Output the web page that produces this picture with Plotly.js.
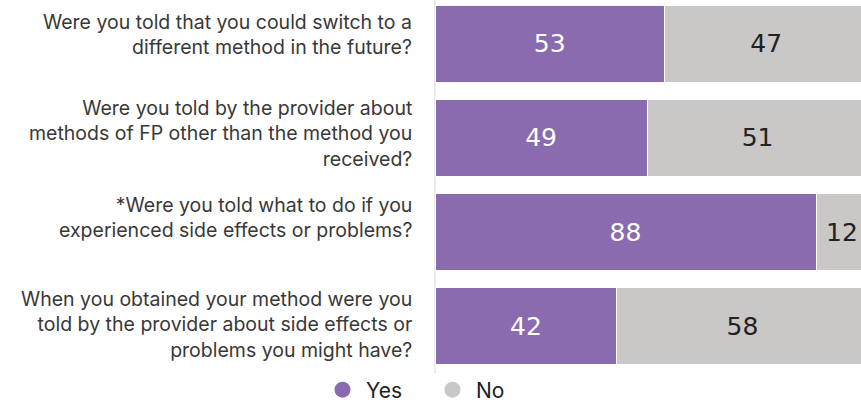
<!DOCTYPE html>
<html><head><meta charset="utf-8">
<script src="https://cdn.plot.ly/plotly-3.0.1.min.js"></script>
<style>html,body{margin:0;padding:0;overflow:hidden;background:#fff}#chart{width:868px;height:403px}</style>
</head><body><div id="chart"></div>
<script>
const categories = [
  "Were you told that you could switch to a<br>different method in the future?",
  "Were you told by the provider about<br>methods of FP other than the method you<br>received?",
  "*Were you told what to do if you<br>experienced side effects or problems?",
  "When you obtained your method were you<br>told by the provider about side effects or<br>problems you might have?"
];
const yesValues = [53, 49, 88, 42];
const noValues = [47, 51, 12, 58];
const seriesNames = ["Yes", "No"];
const colors = ["#8b6baf", "#c9c8c6"];

// label vertical nudges (px, style only)
const labelShift = [9, 4, 15, 2];

const font = "Inter, 'Liberation Sans', sans-serif";
const numFont = "'DejaVu Sans', Inter, sans-serif";
const traces = [
  {type:'bar', orientation:'h', y:categories, x:yesValues, name:seriesNames[0],
   marker:{color:colors[0], line:{color:'#ffffff', width:1}},
   text:yesValues.map(String), textposition:'inside', insidetextanchor:'middle',
   textfont:{color:'#ffffff', size:25, family:numFont}, showlegend:false, hoverinfo:'x'},
  {type:'bar', orientation:'h', y:categories, x:noValues, name:seriesNames[1],
   marker:{color:colors[1], line:{color:'#ffffff', width:1}},
   text:noValues.map(String), textposition:'inside', insidetextanchor:'middle',
   textfont:{color:'#222222', size:25, family:numFont}, showlegend:false, hoverinfo:'x'},
  {type:'scatter', mode:'markers', x:[null], y:[null], name:seriesNames[0],
   marker:{color:colors[0], size:17, symbol:'circle'}, showlegend:true},
  {type:'scatter', mode:'markers', x:[null], y:[null], name:seriesNames[1],
   marker:{color:colors[1], size:17, symbol:'circle'}, showlegend:true}
];
const annotations = categories.map((c, i) => ({
  xref:'paper', yref:'y', x:0, y:c, xanchor:'right', yanchor:'middle',
  xshift:-21, yshift:labelShift[i], text:c, align:'right', showarrow:false,
  font:{size:19.5, color:'#383838', family:font}
}));
const layout = {
  width:868, height:403,
  margin:{l:435, r:0, t:0, b:30, autoexpand:false},
  barmode:'stack', bargap:0.19,
  font:{family:font, color:'#333333', size:17},
  paper_bgcolor:'#ffffff', plot_bgcolor:'#ffffff',
  xaxis:{range:[0,100], showgrid:false, zeroline:true, zerolinecolor:'#ebebeb', zerolinewidth:2,
         showticklabels:false, fixedrange:true},
  yaxis:{type:'category', range:[3.5, -0.468], showgrid:false, zeroline:false,
         ticks:'', showticklabels:false},
  annotations: annotations,
  showlegend:true,
  legend:{orientation:'h', xref:'container', yref:'paper', x:319/868, xanchor:'left',
          y:-0.0456, yanchor:'middle', bgcolor:'rgba(0,0,0,0)',
          font:{size:21, color:'#222222', family:font},
          itemwidth:37, entrywidth:58, entrywidthmode:'pixels', traceorder:'normal'}
};
Plotly.newPlot('chart', traces, layout, {displayModeBar:false, staticPlot:true});
</script></body></html>
